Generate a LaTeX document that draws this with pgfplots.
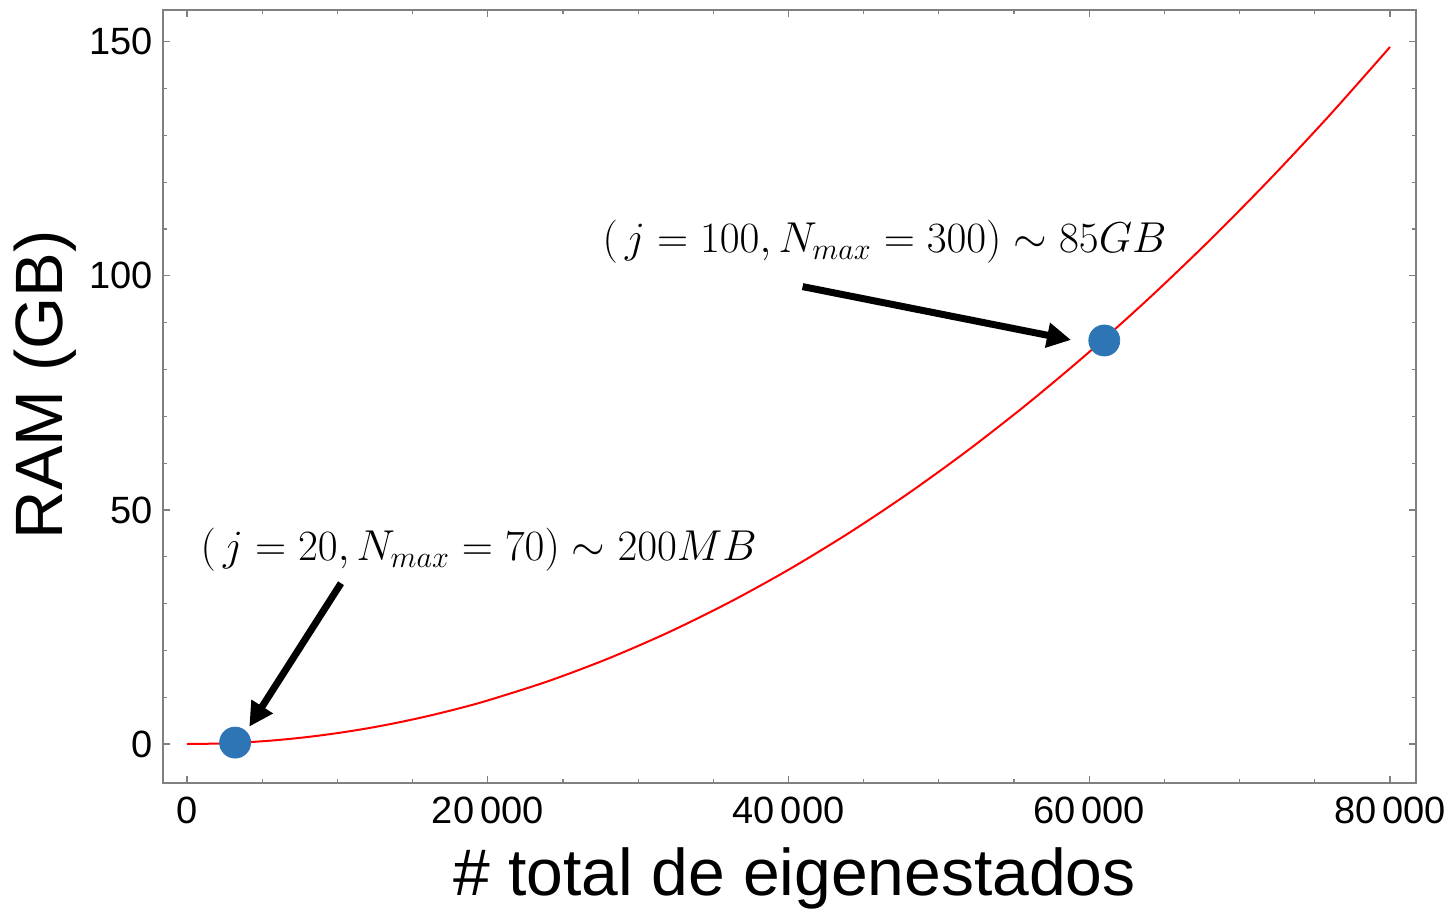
\RequirePackage{fix-cm}
\documentclass[border=0pt]{standalone}
\usepackage{fontspec}
\usepackage{pgfplots}
\pgfplotsset{compat=1.18}
\usetikzlibrary{arrows.meta}
\newfontfamily\arial{Liberation Sans}
\definecolor{framegray}{RGB}{128,128,128}
\definecolor{ptblue}{RGB}{46,117,182}
\begin{document}
\begin{tikzpicture}
\begin{axis}[
  scale only axis, width=626.5bp, height=386.5bp,
  xmin=-1596, xmax=81729, ymin=-8.33, ymax=156.8,
  scaled x ticks=false, scaled y ticks=false,
  axis line style={framegray, line width=0.8bp},
  xtick={0,20000,40000,60000,80000},
  xticklabels={0,20\hspace{3bp}000,40\hspace{3bp}000,60\hspace{3bp}000,80\hspace{3bp}000},
  minor xtick={5000,10000,15000,25000,30000,35000,45000,50000,55000,65000,70000,75000},
  ytick={0,50,100,150},
  yticklabels={0,50,100,150},
  minor ytick={10,20,30,40,60,70,80,90,110,120,130,140},
  tick style={framegray, line width=0.6bp},
  major tick length=3.5bp, minor tick length=2bp,
  tick align=inside,
  xtick pos=both, ytick pos=both,
  xticklabel pos=lower, yticklabel pos=left,
  ticklabel style={font=\arial\fontsize{19bp}{22bp}\selectfont, text=black},
  xticklabel style={anchor=base, yshift=-20bp},
  yticklabel style={anchor=east, inner sep=0pt, xshift=-5bp},
  xlabel={\# total de eigenestados},
  ylabel={RAM (GB)},
  xlabel style={at={(axis description cs:0.504,-0.146)}, anchor=base, font=\arial\fontsize{33bp}{36bp}\selectfont},
  ylabel style={at={(axis description cs:-0.094,0.515)}, anchor=center, font=\arial\fontsize{33.5bp}{36bp}\selectfont},
  clip=false,
]
\addplot[red, line width=1bp, smooth] coordinates {
  (0,0) (2000,0.0931) (4000,0.3723) (6000,0.8376) (8000,1.489) (10000,2.327)
  (12000,3.350) (14000,4.560) (16000,5.956) (18000,7.538) (20000,9.306)
  (24000,13.401) (28000,18.240) (32000,23.824) (36000,30.152) (40000,37.225)
  (44000,45.042) (48000,53.604) (52000,62.910) (56000,72.961) (60000,83.756)
  (64000,95.296) (68000,107.580) (72000,120.609) (76000,134.382) (80000,148.900)
};
\addplot[only marks, mark=*, mark size=7.75bp, color=ptblue, mark options={draw=none, fill=ptblue}] coordinates {
  (3200,0.3) (61000,86.2)
};
\draw[line width=3.5bp, -{Triangle[length=12bp,width=12bp]}] (axis cs:10241,34.34) -- (axis cs:4143,3.70);
\draw[line width=3.5bp, -{Triangle[length=12bp,width=12bp]}] (axis cs:40937,97.71) -- (axis cs:58786,86.32);
\node[anchor=base west, inner sep=0pt, font=\fontsize{21.6bp}{24bp}\selectfont] at (axis cs:884,39.1) {$(\,j=20, N_{max}=70)\sim 200MB$};
\node[anchor=base west, inner sep=0pt, font=\fontsize{21.6bp}{24bp}\selectfont] at (axis cs:27618,104.9) {$(\,j=100, N_{max}=300)\sim 85GB$};
\coordinate (SW) at (rel axis cs:0,0);
\coordinate (NE) at (rel axis cs:1,1);
\end{axis}
\pgfresetboundingbox
\path (SW) ++(-81.5bp,-64bp) rectangle ([shift={(18.5bp,5bp)}]NE);
\end{tikzpicture}
\end{document}
